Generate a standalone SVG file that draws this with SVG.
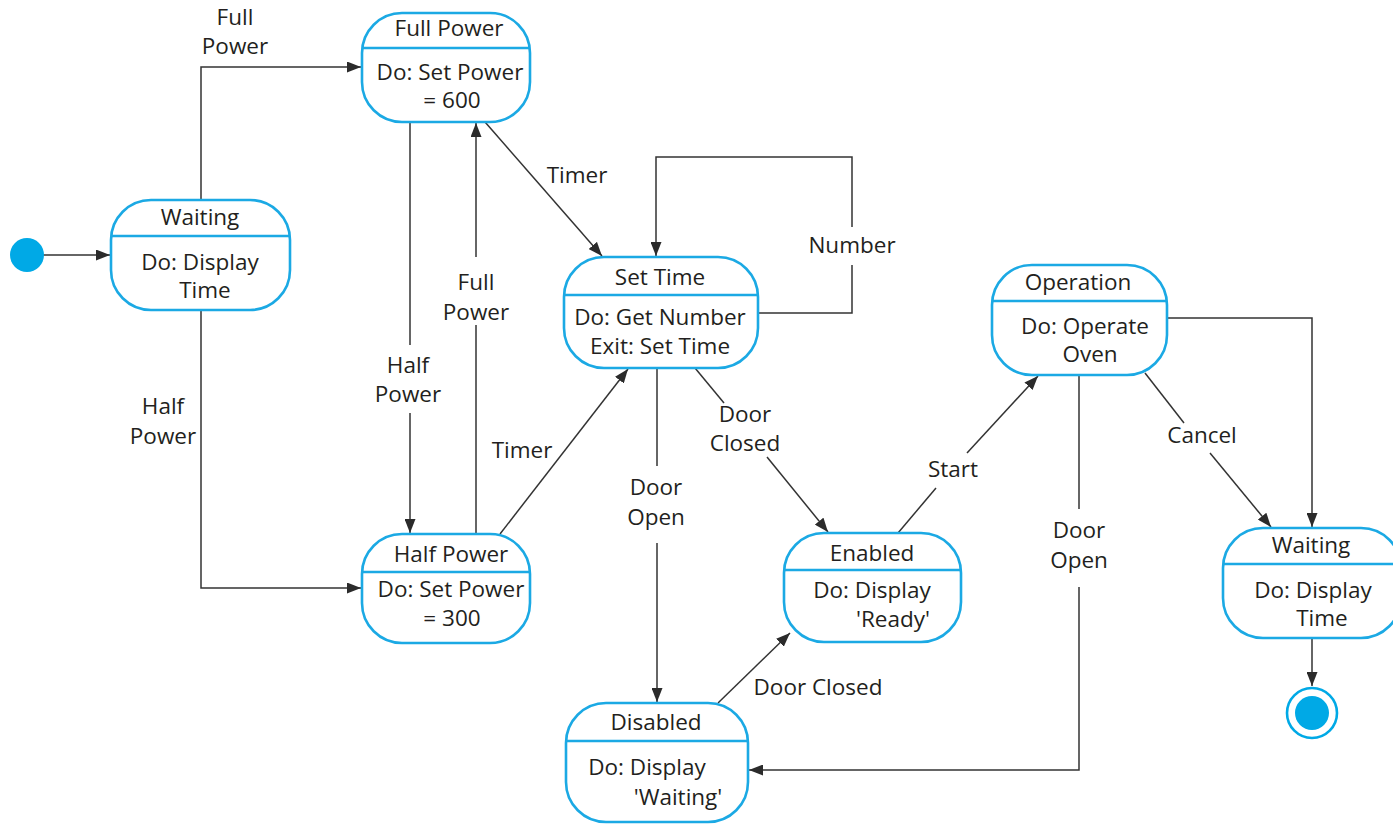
<svg xmlns="http://www.w3.org/2000/svg" width="1393" height="827" viewBox="0 0 1393 827">
<defs>
<marker id="arr" markerUnits="userSpaceOnUse" markerWidth="15" markerHeight="11" refX="14" refY="5.5" orient="auto">
<path d="M0,0 L14,5.5 L0,11 z" fill="#2b2b2b"/>
</marker>
<style>
text{font-family:"Open Sans","Noto Sans","Liberation Sans",sans-serif;font-size:22.5px;fill:#231f20;text-anchor:middle}
.box{fill:#fff;stroke:#1ba9e4;stroke-width:2.6}
.div{stroke:#1ba9e4;stroke-width:2.6}
.c{fill:none;stroke:#333;stroke-width:1.5}
.a{marker-end:url(#arr)}
</style>
</defs>
<rect width="1393" height="827" fill="#fff"/>
<g id="connectors">
<path class="c a" d="M42,255 H110"/>
<path class="c a" d="M201,200 V67 H361"/>
<path class="c a" d="M201,310 V588 H361"/>
<path class="c" d="M410,122 V345"/>
<path class="c a" d="M410,413 V533"/>
<path class="c" d="M476,534 V325"/>
<path class="c a" d="M476,257 V123"/>
<path class="c a" d="M485,122 L602,256"/>
<path class="c a" d="M500,534 L628,369"/>
<path class="c a" d="M758,313 H852 V265 M852,227 V157 H656 V256"/>
<path class="c" d="M657,368 V466"/>
<path class="c a" d="M657,543 V702"/>
<path class="c" d="M695,368 L724,403"/>
<path class="c a" d="M767,457 L828,532"/>
<path class="c" d="M898,533 L936,488"/>
<path class="c a" d="M967,453 L1038,376"/>
<path class="c a" d="M718,703 L790,633"/>
<path class="c" d="M1079,375 V509"/>
<path class="c a" d="M1079,587 V770 H749"/>
<path class="c a" d="M1167,318 H1312 V527"/>
<path class="c" d="M1145,373 L1184,423"/>
<path class="c a" d="M1210,453 L1271,527"/>
<path class="c a" d="M1312,638 V686"/>
<text x="235" y="25">Full</text>
<text x="235" y="54">Power</text>
<text x="163" y="414">Half</text>
<text x="163" y="444">Power</text>
<text x="408" y="373">Half</text>
<text x="408" y="402">Power</text>
<text x="476" y="290">Full</text>
<text x="476" y="320">Power</text>
<text x="577" y="183">Timer</text>
<text x="522" y="458">Timer</text>
<text x="852" y="253">Number</text>
<text x="656" y="495">Door</text>
<text x="656" y="525">Open</text>
<text x="745" y="422">Door</text>
<text x="745" y="451">Closed</text>
<text x="953" y="477">Start</text>
<text x="818" y="695">Door Closed</text>
<text x="1079" y="538">Door</text>
<text x="1079" y="568">Open</text>
<text x="1202" y="443">Cancel</text>
</g>
<g id="initial">
<circle cx="27" cy="255" r="17" fill="#00a9e6"/>
</g>
<g id="waiting1">
<rect class="box" x="111" y="200" width="179" height="110" rx="40"/>
<line class="div" x1="111" y1="236" x2="290" y2="236"/>
<text x="200" y="225">Waiting</text>
<text x="200" y="270">Do: Display</text>
<text x="205" y="298">Time</text>
</g>
<g id="fullpower">
<rect class="box" x="362" y="13" width="168" height="109" rx="40"/>
<line class="div" x1="362" y1="48" x2="530" y2="48"/>
<text x="449" y="36">Full Power</text>
<text x="450" y="80">Do: Set Power</text>
<text x="452" y="108">= 600</text>
</g>
<g id="halfpower">
<rect class="box" x="362" y="534" width="168" height="109" rx="40"/>
<line class="div" x1="362" y1="572" x2="530" y2="572"/>
<text x="451" y="562">Half Power</text>
<text x="451" y="597">Do: Set Power</text>
<text x="452" y="626">= 300</text>
</g>
<g id="settime">
<rect class="box" x="564" y="257" width="194" height="111" rx="40"/>
<line class="div" x1="564" y1="295" x2="758" y2="295"/>
<text x="660" y="285">Set Time</text>
<text x="660" y="325">Do: Get Number</text>
<text x="660" y="354">Exit: Set Time</text>
</g>
<g id="enabled">
<rect class="box" x="784" y="533" width="177" height="109" rx="40"/>
<line class="div" x1="784" y1="570" x2="961" y2="570"/>
<text x="872" y="561">Enabled</text>
<text x="872" y="598">Do: Display</text>
<text x="893" y="627">'Ready'</text>
</g>
<g id="operation">
<rect class="box" x="992" y="265" width="175" height="110" rx="40"/>
<line class="div" x1="992" y1="301" x2="1167" y2="301"/>
<text x="1078" y="290">Operation</text>
<text x="1085" y="334">Do: Operate</text>
<text x="1090" y="362">Oven</text>
</g>
<g id="disabled">
<rect class="box" x="566" y="703" width="182" height="119" rx="40"/>
<line class="div" x1="566" y1="741" x2="748" y2="741"/>
<text x="656" y="730">Disabled</text>
<text x="647" y="775">Do: Display</text>
<text x="678" y="805">'Waiting'</text>
</g>
<g id="waiting2">
<rect class="box" x="1223" y="528" width="178" height="110" rx="40"/>
<line class="div" x1="1223" y1="564" x2="1401" y2="564"/>
<text x="1311" y="553">Waiting</text>
<text x="1313" y="598">Do: Display</text>
<text x="1322" y="626">Time</text>
</g>
<g id="final">
<circle cx="1312" cy="713" r="25" fill="#fff" stroke="#00a9e6" stroke-width="2.6"/>
<circle cx="1312" cy="713" r="17" fill="#00a9e6"/>
</g>
</svg>
